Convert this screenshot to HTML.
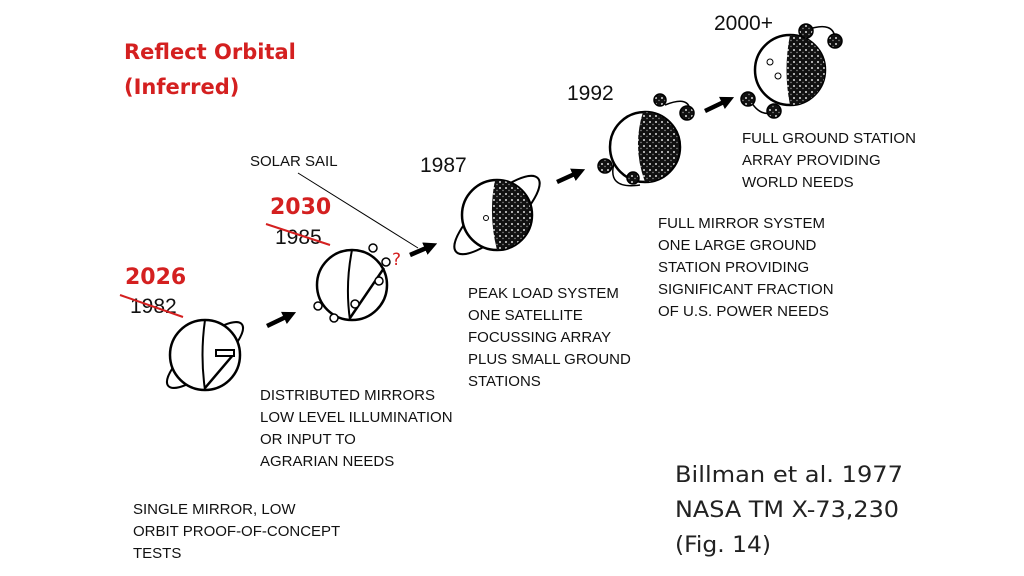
<!DOCTYPE html>
<html><head><meta charset="utf-8"><style>
html,body{margin:0;padding:0;background:#fff;width:1024px;height:576px;overflow:hidden}
svg{display:block}
.t{font-family:"Liberation Sans",sans-serif;fill:#111;}
.r{font-family:"DejaVu Sans",sans-serif;font-weight:bold;fill:#d42020}
.b{font-family:"DejaVu Sans",sans-serif;fill:#222}
</style></head><body>
<svg width="1024" height="576" viewBox="0 0 1024 576">
<defs>
<marker id="ah" markerWidth="3" markerHeight="3" refX="1.5" refY="1.5" orient="auto"><path d="M0,0L3,1.5L0,3z" fill="#000"/></marker>
<pattern id="sp" width="6" height="6" patternUnits="userSpaceOnUse"><rect width="6" height="6" fill="#111"/><circle cx="2" cy="2" r="1" fill="#ddd"/><circle cx="5" cy="4.5" r="0.7" fill="#999"/></pattern>
</defs>
<text class="r" x="124" y="59" style="font-size:21px">Reflect Orbital</text>
<text class="r" x="124" y="94" style="font-size:21px">(Inferred)</text>

<!-- 1982 -->
<text class="r" x="125" y="284" style="font-size:22px">2026</text>
<text class="t" x="130" y="313" style="font-size:21px">1982</text>
<line x1="120" y1="295" x2="183" y2="317" stroke="#d42020" stroke-width="2"/>
<ellipse cx="205" cy="355" rx="48" ry="15" transform="rotate(-40 205 355)" fill="none" stroke="#000" stroke-width="2"/>
<circle cx="205" cy="355" r="35" fill="#fff" stroke="#000" stroke-width="2.5"/>
<path d="M205,320 Q200,355 205,390" fill="none" stroke="#000" stroke-width="2"/>
<line x1="205" y1="388" x2="233" y2="355" stroke="#000" stroke-width="2.5"/>
<rect x="216" y="350" width="18" height="6" fill="#fff" stroke="#000" stroke-width="2"/>

<line x1="267" y1="326" x2="290" y2="315" stroke="#000" stroke-width="4.5" marker-end="url(#ah)"/>

<!-- 1985 -->
<text class="r" x="270" y="214" style="font-size:22px">2030</text>
<text class="t" x="275" y="244" style="font-size:21px">1985</text>
<line x1="266" y1="224" x2="330" y2="245" stroke="#d42020" stroke-width="2"/>
<circle cx="352" cy="285" r="35" fill="#fff" stroke="#000" stroke-width="2.5"/>
<path d="M352,250 Q345,285 350,320" fill="none" stroke="#000" stroke-width="2"/>
<line x1="350" y1="318" x2="384" y2="268" stroke="#000" stroke-width="2.5"/>
<g fill="#fff" stroke="#000" stroke-width="1.5"><circle cx="373" cy="248" r="4"/><circle cx="386" cy="262" r="4"/><circle cx="379" cy="281" r="4"/><circle cx="355" cy="304" r="4"/><circle cx="318" cy="306" r="4"/><circle cx="334" cy="318" r="4"/></g>
<text class="r" x="392" y="265" style="font-size:17px;font-weight:normal">?</text>
<line x1="410" y1="255" x2="431" y2="246" stroke="#000" stroke-width="4.5" marker-end="url(#ah)"/>
<line x1="298" y1="173" x2="418" y2="248" stroke="#000" stroke-width="1"/>
<text class="t" x="250" y="166" style="font-size:15px">SOLAR SAIL</text>

<!-- 1987 -->
<text class="t" x="420" y="172" style="font-size:21px">1987</text>
<ellipse cx="497" cy="215" rx="55" ry="18" transform="rotate(-42 497 215)" fill="none" stroke="#000" stroke-width="2"/>
<circle cx="497" cy="215" r="35" fill="#fff" stroke="#000" stroke-width="2.5"/>
<path d="M495,180 Q488,215 497,250 A35,35 0 0 0 495,180z" fill="url(#sp)"/>
<circle cx="486" cy="218" r="2.5" fill="#fff" stroke="#000"/>

<line x1="557" y1="182" x2="579" y2="172" stroke="#000" stroke-width="4.5" marker-end="url(#ah)"/>

<!-- 1992 -->
<text class="t" x="567" y="100" style="font-size:21px">1992</text>
<path d="M615,160 Q605,190 640,185 M665,105 Q690,95 690,112" fill="none" stroke="#000" stroke-width="1.5"/>
<circle cx="645" cy="147" r="35" fill="#fff" stroke="#000" stroke-width="2.5"/>
<path d="M643,112 Q632,147 645,182 A35,35 0 0 0 643,112z" fill="url(#sp)"/>
<g fill="url(#sp)" stroke="#000" stroke-width="1.5"><circle cx="660" cy="100" r="6"/><circle cx="687" cy="113" r="7"/><circle cx="605" cy="166" r="7"/><circle cx="633" cy="178" r="6"/></g>

<line x1="705" y1="111" x2="728" y2="100" stroke="#000" stroke-width="4.5" marker-end="url(#ah)"/>

<!-- 2000+ -->
<text class="t" x="714" y="30" style="font-size:21px">2000+</text>
<circle cx="790" cy="70" r="35" fill="#fff" stroke="#000" stroke-width="2.5"/>
<path d="M790,35 Q783,70 790,105 A35,35 0 0 0 790,35z" fill="url(#sp)"/>
<g fill="#fff" stroke="#000"><circle cx="770" cy="62" r="3"/><circle cx="778" cy="76" r="3"/></g>
<path d="M806,30 Q835,20 835,40 M750,100 Q760,118 775,112" fill="none" stroke="#000" stroke-width="1.5"/>
<g fill="url(#sp)" stroke="#000" stroke-width="1.5"><circle cx="806" cy="31" r="7"/><circle cx="835" cy="41" r="7"/><circle cx="748" cy="99" r="7"/><circle cx="774" cy="111" r="7"/></g>

<g class="t" style="font-size:15px">
<text x="742" y="143">FULL GROUND STATION</text>
<text x="742" y="165">ARRAY PROVIDING</text>
<text x="742" y="187">WORLD NEEDS</text>
<text x="658" y="228">FULL MIRROR SYSTEM</text>
<text x="658" y="250">ONE LARGE GROUND</text>
<text x="658" y="272">STATION PROVIDING</text>
<text x="658" y="294">SIGNIFICANT FRACTION</text>
<text x="658" y="316">OF U.S. POWER NEEDS</text>
<text x="468" y="298">PEAK LOAD SYSTEM</text>
<text x="468" y="320">ONE SATELLITE</text>
<text x="468" y="342">FOCUSSING ARRAY</text>
<text x="468" y="364">PLUS SMALL GROUND</text>
<text x="468" y="386">STATIONS</text>
<text x="260" y="400">DISTRIBUTED MIRRORS</text>
<text x="260" y="422">LOW LEVEL ILLUMINATION</text>
<text x="260" y="444">OR INPUT TO</text>
<text x="260" y="466">AGRARIAN NEEDS</text>
<text x="133" y="514">SINGLE MIRROR, LOW</text>
<text x="133" y="536">ORBIT PROOF-OF-CONCEPT</text>
<text x="133" y="558">TESTS</text>
</g>
<g class="b" style="font-size:22px">
<text x="675" y="482" textLength="228" lengthAdjust="spacingAndGlyphs">Billman et al. 1977</text>
<text x="675" y="517" textLength="224" lengthAdjust="spacingAndGlyphs">NASA TM X-73,230</text>
<text x="675" y="552" textLength="96" lengthAdjust="spacingAndGlyphs">(Fig. 14)</text>
</g>
</svg>
</body></html>
